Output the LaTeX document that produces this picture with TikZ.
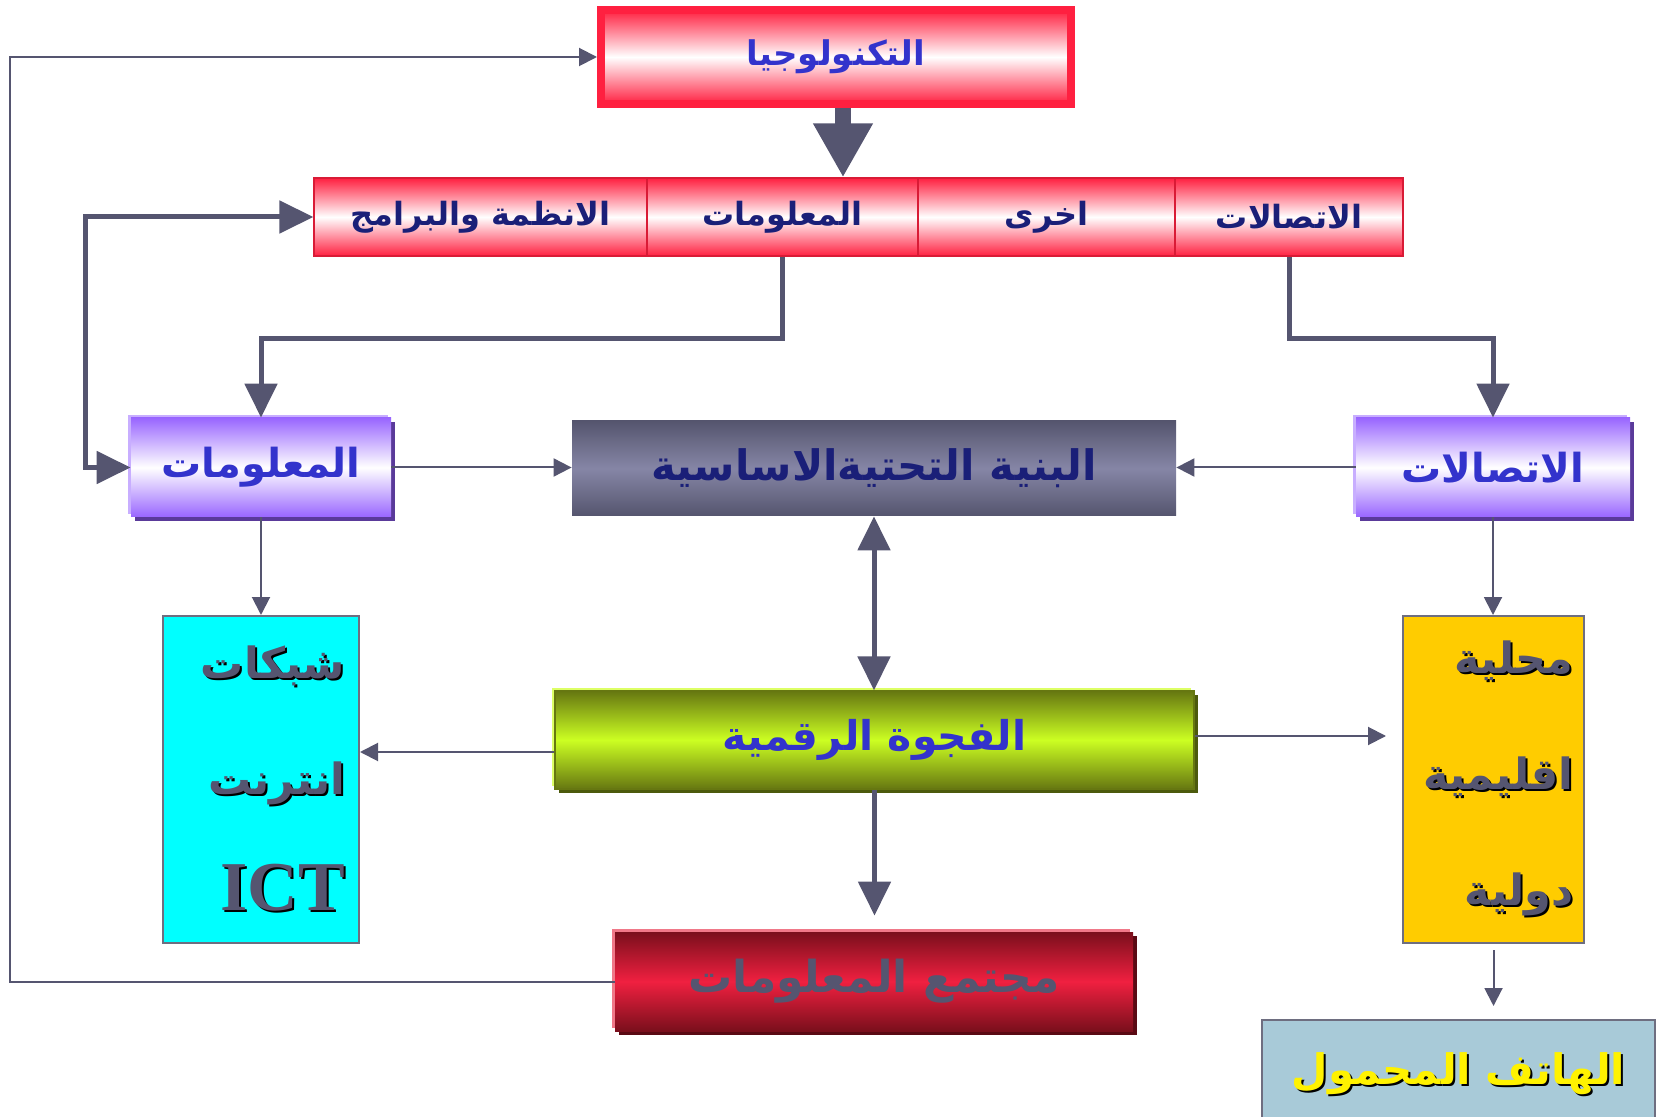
\documentclass[tikz,border=0pt]{standalone}
\usepackage{fontspec}
\newfontfamily\arabicfont[Script=Arabic]{DejaVu Sans}
\newfontfamily\latinfont{Liberation Serif}
\TeXXeTstate=1
\usetikzlibrary{arrows.meta,shadows}

\definecolor{linkcol}{HTML}{555570}
\definecolor{techred}{HTML}{FF2040}
\definecolor{techshade}{HTML}{9A1428}
\definecolor{techlight}{HTML}{FF7A8C}
\definecolor{textblue}{HTML}{3333CC}
\definecolor{textnavy}{HTML}{1A1F78}
\definecolor{lilac}{HTML}{9966FF}
\definecolor{lilacshade}{HTML}{5A3A9A}
\definecolor{lilaclight}{HTML}{C8AEFF}
\definecolor{slate}{HTML}{55556E}
\definecolor{slatemid}{HTML}{8686A6}
\definecolor{olive}{HTML}{667711}
\definecolor{oliveshade}{HTML}{4C5A0C}
\definecolor{olivelight}{HTML}{DDFF66}
\definecolor{lime}{HTML}{CCFF22}
\definecolor{wine}{HTML}{7A0F1C}
\definecolor{wineshade}{HTML}{5A0A14}
\definecolor{winelight}{HTML}{F07888}
\definecolor{winemid}{HTML}{F02040}
\definecolor{skyish}{HTML}{A8CAD8}
\definecolor{aqua}{HTML}{00FFFF}
\definecolor{gold}{HTML}{FFCC00}
\definecolor{boxgray}{HTML}{6E6E80}

% text with a small offset shadow behind it
\newcommand\txtshadow[3]{\leavevmode\rlap{\kern1pt\raisebox{-1pt}{\color{#2}#3}}{\color{#1}#3}}
\newcommand\ar[1]{\beginR #1\endR}

\tikzset{
  bighead/.tip={Triangle[length=17pt,width=16pt]},
  smallhead/.tip={Triangle[length=9pt,width=9pt]},
  box/.style={inner sep=0pt, align=center, font=\arabicfont\bfseries},
  lift/.style={general shadow={shadow xshift=-1.3pt, shadow yshift=1.3pt, fill=#1, opacity=1}},
  sink/.style={drop shadow={shadow xshift=2pt, shadow yshift=-2pt, fill=#1, opacity=1}},
  rowcell/.style={box, draw=techred!85!black, line width=0.6pt, top color=techred,
    bottom color=techred, middle color=white, minimum height=39pt, text=textnavy,
    font=\arabicfont\bfseries\fontsize{16}{18}\selectfont},
  lilacbox/.style={box, top color=lilac, bottom color=lilac, middle color=white,
    minimum width=130pt, minimum height=49.5pt, sink=lilacshade, lift=lilaclight,
    text=textblue, font=\arabicfont\bfseries\fontsize{20}{24}\selectfont},
  tallbox/.style={box, draw=boxgray, line width=1pt, minimum height=163.5pt,
    text=linkcol, align=right, font=\arabicfont\bfseries\fontsize{21.5}{58}\selectfont},
  thinlink/.style={draw=linkcol, line width=1pt, -smallhead},
  thicklink/.style={draw=linkcol, line width=2.5pt, -bighead},
}

\begin{document}
\begin{tikzpicture}[x=0.5pt, y=-0.5pt]
\useasboundingbox (0,0) rectangle (1666,1117);

% boxes
\node[box, draw=techred, line width=4pt, top color=techred, bottom color=techred,
  middle color=white, minimum width=235pt, minimum height=47pt, text=textblue,
  sink=techshade, lift=techlight,
  font=\arabicfont\bfseries\fontsize{17}{20}\selectfont] (tech) at (836,57) {\ar{التكنولوجيا}};

\node[rowcell, minimum width=166.5pt] (sys) at (480.5,217) {\ar{الانظمة والبرامج}};
\node[rowcell, minimum width=135.5pt] (info) at (782.5,217) {\ar{المعلومات}};
\node[rowcell, minimum width=128.5pt] (other) at (1046.5,217) {\ar{اخرى}};
\node[rowcell, minimum width=114pt] (tele) at (1289,217) {\ar{الاتصالات}};

\node[lilacbox] (infoL) at (261,467.5) {\ar{المعلومات}};
\node[lilacbox, minimum width=137pt] (teleR) at (1493,467.5) {\ar{الاتصالات}};

\node[box, top color=slate, bottom color=slate, middle color=slatemid,
  minimum width=302pt, minimum height=47.5pt, text=textnavy,
  font=\arabicfont\bfseries\fontsize{21}{25}\selectfont] (infra) at (874,468.5) {\ar{البنية التحتيةالاساسية}};

\node[tallbox, fill=aqua, minimum width=98pt, text width=84pt] (net) at (261,779.5)
  {\txtshadow{linkcol}{black}{\ar{شبكات}}\\\txtshadow{linkcol}{black}{\ar{انترنت}}\\
   \txtshadow{linkcol}{black}{\latinfont\bfseries\fontsize{35}{40}\selectfont ICT}};

\node[box, draw=olive, line width=0.6pt, top color=olive, bottom color=olive, middle color=lime,
  minimum width=319.5pt, minimum height=49pt, text=textblue, sink=oliveshade, lift=olivelight,
  font=\arabicfont\bfseries\fontsize{20.5}{24}\selectfont] (gap) at (874.5,740) {\ar{الفجوة الرقمية}};

\node[tallbox, fill=gold, minimum width=90.5pt, text width=80pt] (scope) at (1493.5,779.5)
  {\txtshadow{linkcol}{black}{\ar{محلية}}\\\txtshadow{linkcol}{black}{\ar{اقليمية}}\\
   \txtshadow{linkcol}{black}{\ar{دولية}}};

\node[box, top color=wine, bottom color=wine, middle color=winemid,
  minimum width=259pt, minimum height=49.5pt, text=linkcol, sink=wineshade, lift=winelight,
  font=\arabicfont\bfseries\fontsize{22}{26}\selectfont] (society) at (874,981.5) {\ar{مجتمع المعلومات}};

\node[box, draw=boxgray, line width=1pt, fill=skyish, minimum width=196.5pt, minimum height=55pt,
  font=\arabicfont\bfseries\fontsize{21}{25}\selectfont] (mobile) at (1458.5,1075)
  {\txtshadow{yellow}{black}{\ar{الهاتف المحمول}}};

% bends
\coordinate (farleft) at (10,500);
\coordinate (nearleft) at (85,300);

% connectors
\draw[linkcol, line width=8pt, -{Triangle[length=27pt,width=28pt]}]
  ([xshift=3.5pt]tech.south) -- ([xshift=3.5pt]tech.south |- info.north);
\draw[thinlink] (society.west) -| (farleft) |- (tech.west);
\draw[thicklink, bighead-bighead] (sys.west) -| (nearleft) |- (infoL.west);
\draw[thicklink] (info.south) -- ++(0,82) -| (infoL.north);
\draw[thicklink] (tele.south) -- ++(0,82) -| (teleR.north);
\draw[thinlink] (infoL.east) -- (infoL.east -| infra.west);
\draw[thinlink] (teleR.west) -- (teleR.west -| infra.east);
\draw[thicklink, bighead-bighead] (infra.south) -- (infra.south |- gap.north);
\draw[thicklink, shorten >=8pt] (gap.south) -- (gap.south |- society.north);
\draw[thinlink] ([yshift=-6pt]gap.west) -- ([yshift=-6pt]gap.west -| net.east);
\draw[thinlink, shorten >=8pt] ([yshift=2pt]gap.east) -- ([yshift=2pt]gap.east -| scope.west);
\draw[thinlink] (infoL.south) -- (infoL.south |- net.north);
\draw[thinlink] (teleR.south) -- (teleR.south |- scope.north);
\draw[thinlink, shorten <=3pt, shorten >=6.5pt] (scope.south) -- (scope.south |- mobile.north);
\end{tikzpicture}
\end{document}
